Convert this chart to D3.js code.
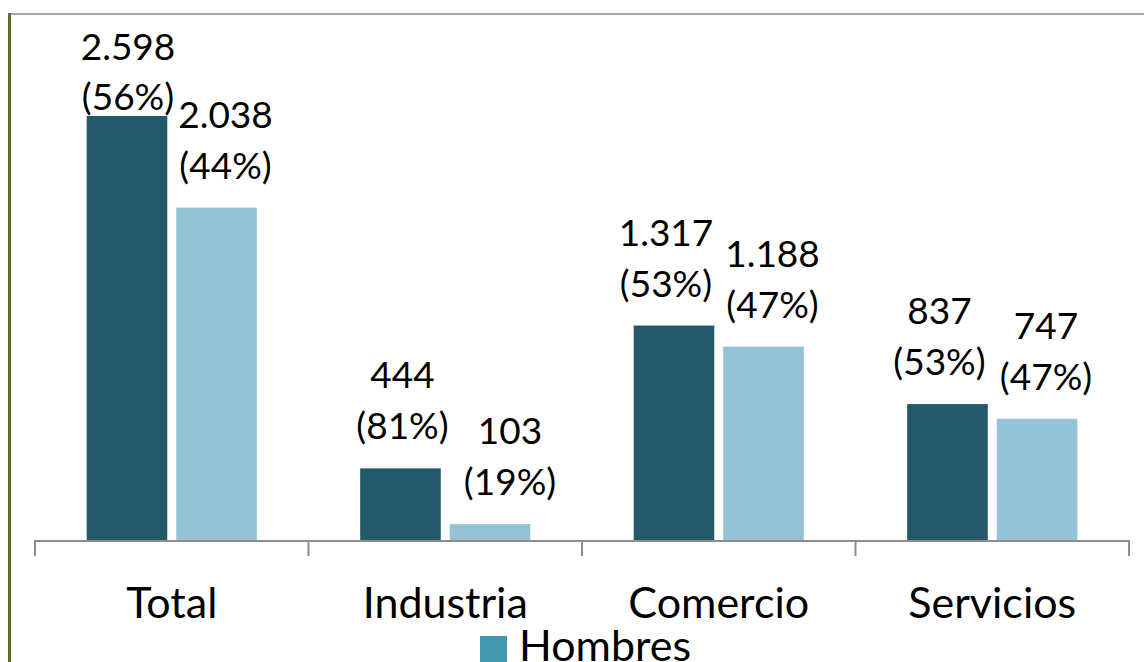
<!DOCTYPE html>
<html>
<head>
<meta charset="utf-8">
<script src="https://cdn.jsdelivr.net/npm/d3@7"></script>
<style>
  html, body { margin: 0; padding: 0; background: #fff; }
  svg { display: block; font-family: Lato, "Open Sans", sans-serif; }
</style>
</head>
<body>
<svg id="chart" width="1144" height="662"></svg>
<script>
// ---- data ----
const categories = ["Total", "Industria", "Comercio", "Servicios"];
const seriesNames = ["Mujeres", "Hombres"];
const valuesDark = [2598, 444, 1317, 837];
const valuesLight = [2038, 103, 1188, 747];
const labelsDark = ["2.598", "444", "1.317", "837"];
const labelsLight = ["2.038", "103", "1.188", "747"];
const pctDark = ["(56%)", "(81%)", "(53%)", "(53%)"];
const pctLight = ["(44%)", "(19%)", "(47%)", "(47%)"];
const legendLabels = ["Hombres"];

// ---- layout ----
const W = 1144, H = 662;
const plot = { left: 35, right: 1129, top: 14, base: 541 };
const colors = { dark: "#235968", light: "#94c3d5", legend: "#4398ad" };

const svg = d3.select("#chart");

const x0 = d3.scaleBand().domain(categories).range([plot.left, plot.right]).paddingInner(0).paddingOuter(0);
const bw = x0.bandwidth();
const x1 = d3.scaleBand().domain(["dark", "light"]).range([bw * 0.189, bw * 0.811]).paddingInner(0.1).paddingOuter(0);
const y = d3.scaleLinear().domain([0, 3000]).range([plot.base, plot.base - 3000 * 0.16359]);

// frame lines
svg.append("line").attr("x1", 11).attr("x2", W).attr("y1", 14).attr("y2", 14)
  .attr("stroke", "#a6a6a6").attr("stroke-width", 2);
svg.append("line").attr("x1", 9.5).attr("x2", 9.5).attr("y1", 13).attr("y2", H)
  .attr("stroke", "#5e6e2c").attr("stroke-width", 3);

const rows = categories.map((c, i) => ({
  cat: c,
  bars: [
    { key: "dark", v: valuesDark[i], l1: labelsDark[i], l2: pctDark[i], shift: i === 0 ? 1 : (i === 1 ? 2 : -8) },
    { key: "light", v: valuesLight[i], l1: labelsLight[i], l2: pctLight[i], shift: i === 1 ? 20 : 9 }
  ]
}));

const g = svg.selectAll("g.cat").data(rows).join("g")
  .attr("class", "cat")
  .attr("transform", d => `translate(${x0(d.cat)},0)`);

g.selectAll("rect").data(d => d.bars).join("rect")
  .attr("x", d => x1(d.key))
  .attr("width", x1.bandwidth())
  .attr("y", d => y(d.v))
  .attr("height", d => plot.base - y(d.v))
  .attr("fill", d => colors[d.key]);

const lab = g.selectAll("g.lab").data(d => d.bars).join("g").attr("class", "lab");
lab.each(function(d) {
  const top = y(d.v);
  let b1 = top - 80, b2 = top - 29;
  if (b1 < 60) { b1 = 60; b2 = 110; }
  const cx = x1(d.key) + x1.bandwidth() / 2 + d.shift;
  const s = d3.select(this);
  s.append("text").attr("x", cx).attr("y", b1).attr("text-anchor", "middle")
    .attr("font-size", 37).attr("fill", "#000").text(d.l1);
  s.append("text").attr("x", cx).attr("y", b2).attr("text-anchor", "middle")
    .attr("font-size", 37).attr("fill", "#000").text(d.l2);
});

// axis
const axis = d3.axisBottom(x0).tickSize(15).tickSizeOuter(15).tickFormat("");
const ax = svg.append("g").attr("transform", `translate(0,${plot.base})`).call(axis);
ax.select(".domain").attr("stroke", "#8c8c8c").attr("stroke-width", 2)
  .attr("d", `M${plot.left},15V0H${plot.right}V15`);
ax.selectAll(".tick").remove();
const tickPos = categories.map(c => x0(c)).concat([plot.right]);
ax.selectAll("line.tk").data(tickPos).join("line").attr("class", "tk")
  .attr("x1", d => d).attr("x2", d => d).attr("y1", 0).attr("y2", 15)
  .attr("stroke", "#8c8c8c").attr("stroke-width", 2);

svg.selectAll("text.cat").data(categories).join("text").attr("class", "cat")
  .attr("x", d => x0(d) + x0.bandwidth() / 2)
  .attr("y", 618)
  .attr("text-anchor", "middle")
  .attr("font-size", 43)
  .attr("fill", "#000")
  .text(d => d);

// legend
const lg = svg.append("g");
lg.selectAll("rect").data(legendLabels).join("rect")
  .attr("x", 480).attr("y", 636).attr("width", 27).attr("height", 27)
  .attr("fill", colors.legend);
lg.selectAll("text").data(legendLabels).join("text")
  .attr("x", 519).attr("y", 661).attr("font-size", 43).attr("fill", "#000")
  .text(d => d);
</script>
</body>
</html>
